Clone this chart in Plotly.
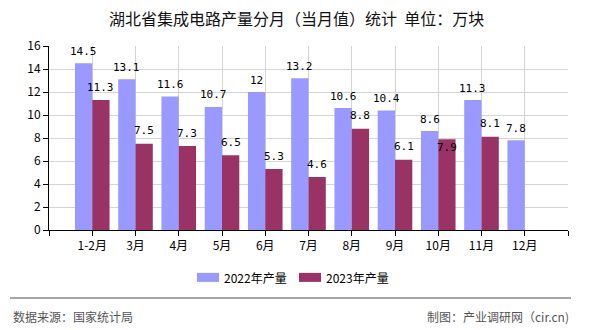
import plotly.graph_objects as go

months = ["1-2月", "3月", "4月", "5月", "6月", "7月", "8月", "9月", "10月", "11月", "12月"]
y2022 = [14.5, 13.1, 11.6, 10.7, 12, 13.2, 10.6, 10.4, 8.6, 11.3, 7.8]
y2023 = [11.3, 7.5, 7.3, 6.5, 5.3, 4.6, 8.8, 6.1, 7.9, 8.1, None]
name2022 = "2022年产量"
name2023 = "2023年产量"
yticks = [0, 2, 4, 6, 8, 10, 12, 14, 16]
title = "湖北省集成电路产量分月（当月值）统计  单位：万块"
source_left = "数据来源：国家统计局"
source_right = "制图：产业调研网（cir.cn)"

c2022 = "#9999FF"
c2023 = "#993366"

W, H = 590, 330
L, R, T, B = 49, 568, 46, 229.7
BARGAP = 0.2
HALF = (1 - BARGAP) / 4  # centre offset of each bar within a group

def px(x):
    return (x - L) / (R - L)

def py(y):
    return (B - y) / (B - T)

xidx = list(range(len(months)))

fig = go.Figure()
fig.add_trace(go.Bar(x=xidx, y=y2022, name=name2022, marker=dict(color=c2022, line=dict(width=0))))
fig.add_trace(go.Bar(x=xidx, y=y2023, name=name2023, marker=dict(color=c2023, line=dict(width=0))))

fig.update_layout(
    width=W, height=H,
    margin=dict(l=L, r=W - R, t=T, b=H - B),
    paper_bgcolor="white", plot_bgcolor="white",
    barmode="group", bargap=BARGAP, bargroupgap=0,
    showlegend=False,
    font=dict(family="Noto Sans CJK SC", size=12, color="#000"),
    xaxis=dict(range=[-1, len(months)], tickmode="array",
               tickvals=list(range(-1, len(months) + 1)),
               ticktext=[""] + months + [""],
               showgrid=True, gridcolor="#d4d4d4", gridwidth=1,
               showline=True, linecolor="#000", linewidth=1,
               ticks="outside", ticklen=5, tickcolor="#000",
               tickfont=dict(size=12), zeroline=False, fixedrange=True),
    yaxis=dict(range=[0, 16], tickvals=yticks,
               showgrid=True, gridcolor="#d4d4d4", gridwidth=1,
               showline=True, linecolor="#000", linewidth=1,
               ticks="outside", ticklen=5, tickcolor="#000",
               tickfont=dict(size=12), zeroline=False, fixedrange=True),
)

shapes = []
shapes.append(dict(type="rect", xref="paper", yref="paper", x0=px(197), x1=px(219), y0=py(281.5), y1=py(272.5),
                   fillcolor=c2022, line=dict(width=0)))
shapes.append(dict(type="rect", xref="paper", yref="paper", x0=px(299), x1=px(321), y0=py(281.5), y1=py(272.5),
                   fillcolor=c2023, line=dict(width=0)))
shapes.append(dict(type="line", xref="paper", yref="paper", x0=px(10), x1=px(571), y0=py(297.7), y1=py(297.7),
                   line=dict(color="#888888", width=1.5)))
fig.update_layout(shapes=shapes)

labfont = dict(family="DejaVu Sans Mono", size=11, color="#000")
ann = []
for i, v in enumerate(y2022):
    if v is not None:
        ann.append(dict(x=i - HALF, y=v, xref="x", yref="y", text="%g" % v, showarrow=False,
                        yanchor="middle", yshift=12, font=labfont))
for i, v in enumerate(y2023):
    if v is not None:
        shift = -8 if months[i] == "10月" else 13
        ann.append(dict(x=i + HALF, y=v, xref="x", yref="y", text="%g" % v, showarrow=False,
                        yanchor="middle", yshift=shift, font=labfont))

ann += [
    dict(text=title, xref="paper", yref="paper", x=px(296), y=py(18), xanchor="center", yanchor="middle",
         showarrow=False, font=dict(size=16, color="#111")),
    dict(text=name2022, xref="paper", yref="paper", x=px(222), y=py(277), xanchor="left", yanchor="middle",
         showarrow=False, font=dict(size=12, color="#000")),
    dict(text=name2023, xref="paper", yref="paper", x=px(324), y=py(277), xanchor="left", yanchor="middle",
         showarrow=False, font=dict(size=12, color="#000")),
    dict(text=source_left, xref="paper", yref="paper", x=px(11), y=py(316), xanchor="left", yanchor="middle",
         showarrow=False, font=dict(size=12, color="#555")),
    dict(text=source_right, xref="paper", yref="paper", x=px(571), y=py(316), xanchor="right", yanchor="middle",
         showarrow=False, font=dict(size=12, color="#555")),
]
fig.update_layout(annotations=ann)

fig.write_html("out.html")
